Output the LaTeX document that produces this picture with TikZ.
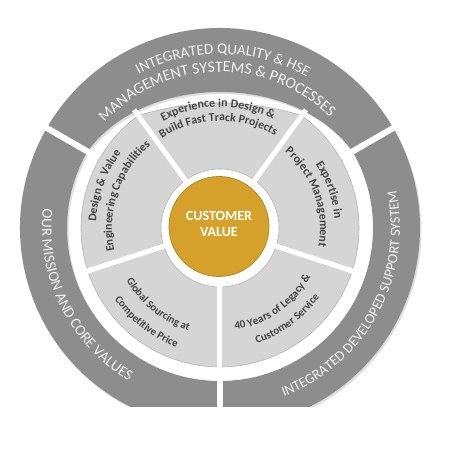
\documentclass[tikz,border=0pt]{standalone}
\usepackage{fontspec}
\setmainfont{Carlito}
\usetikzlibrary{decorations.text,shadows}
\definecolor{bandgray}{HTML}{8D8D8D}
\definecolor{seggray}{HTML}{D5D5D5}
\definecolor{segedge}{HTML}{B5B5B5}
\definecolor{gold}{HTML}{D5A12B}
\definecolor{txtdark}{HTML}{454545}
\definecolor{bandtxt}{HTML}{F4F4F4}
\newcommand\segfont[1]{\fontsize{#1}{#1}\selectfont\bfseries\color{txtdark}}
\newcommand\bandfont[1]{\fontsize{#1}{#1}\selectfont\color{bandtxt}}
\newcommand\cwtext[3]{\path[decorate,decoration={text along path,text align=center,text={#3}}] ({#2+90}:#1) arc[start angle={#2+90},end angle={#2-90},radius=#1];}
\newcommand\ccwtext[3]{\path[decorate,decoration={text along path,text align=center,text={#3}}] ({#2-90}:#1) arc[start angle={#2-90},end angle={#2+90},radius=#1];}
\newcommand\wheelseg[2]{\fill[seggray,draw=segedge,line width=0.6pt] (#1:59) -- (#1:139) arc[start angle=#1,end angle=#2,radius=139] -- (#2:59) arc[start angle=#2,end angle=#1,radius=59] -- cycle;}
\tikzset{bandshadow/.style={drop shadow={opacity=0.25,shadow xshift=1.5pt,shadow yshift=-2pt}}}
\begin{document}
\begin{tikzpicture}[x=1pt,y=1pt]
\useasboundingbox (-220,-222) rectangle (230,228);
\fill[white] (-220,-222) rectangle (230,228);
% outer bands
\begin{scope}
\clip (-220,-178) rectangle (230,228);
\fill[bandgray,bandshadow] (150:200) arc[start angle=150,end angle=270,radius=200] -- (270:153) arc[start angle=270,end angle=150,radius=153] -- cycle;
\fill[bandgray,bandshadow] (-90:200) arc[start angle=-90,end angle=30,radius=200] -- (30:153) arc[start angle=30,end angle=-90,radius=153] -- cycle;
\fill[bandgray,bandshadow] (30:200) arc[start angle=30,end angle=150,radius=200] -- (150:153) .. controls (-75,155.8) and (75,155.8) .. (30:153) -- cycle;
\end{scope}
\foreach \a in {30,150,270} \draw[white,line width=6pt] (\a:140) -- (\a:215);
% inner segments
\wheelseg{126}{198}
\wheelseg{198}{270}
\wheelseg{270}{342}
\wheelseg{-18}{54}
\fill[seggray,draw=segedge,line width=0.6pt] (54:59) -- (54:139) .. controls (27,129.2) and (-27,129.2) .. (126:139) -- (126:59) arc[start angle=126,end angle=54,radius=59] -- cycle;
\foreach \a in {54,126,198,270,342} \draw[white,line width=5pt] (\a:54) -- (\a:146);
% centre
\fill[gold,draw=gold!85!black,line width=0.8pt] (-1,1.5) circle (50);
\node[font=\fontsize{14}{16}\selectfont\bfseries,text=white,align=center] (cv) at (-1,4) {CUSTOMER\\VALUE};
% band texts
\cwtext{174}{89}{|\bandfont{15}|INTEGRATED QUALITY {\&} HSE}
\cwtext{156}{91.4}{|\bandfont{15.8}|MANAGEMENT SYSTEMS {\&} PROCESSES}
\ccwtext{178}{206.5}{|\bandfont{15}|OUR MISSION AND CORE VALUES}
\ccwtext{180}{-28.7}{|\bandfont{14.3}|INTEGRATED DEVELOPED SUPPORT SYSTEM}
% segment texts
\cwtext{121}{91}{|\segfont{12}|Experience in Design {\&}}
\cwtext{107}{91}{|\segfont{11.8}|Build Fast Track Projects}
\cwtext{124}{160}{|\segfont{11.8}|Design {\&} Value}
\cwtext{108}{161}{|\segfont{11.8}|Engineering Capabilities}
\cwtext{115}{19.2}{|\segfont{12}|Expertise in}
\cwtext{100}{19.5}{|\segfont{12}|Project Management}
\ccwtext{107}{231}{|\segfont{10.8}|Global Sourcing at}
\ccwtext{127}{232}{|\segfont{10.8}|Competitive Price}
\ccwtext{103}{-55}{|\segfont{11.2}|40 Years of Legacy {\&}}
\ccwtext{121}{-53.5}{|\segfont{11}|Customer Service}
\end{tikzpicture}
\end{document}
